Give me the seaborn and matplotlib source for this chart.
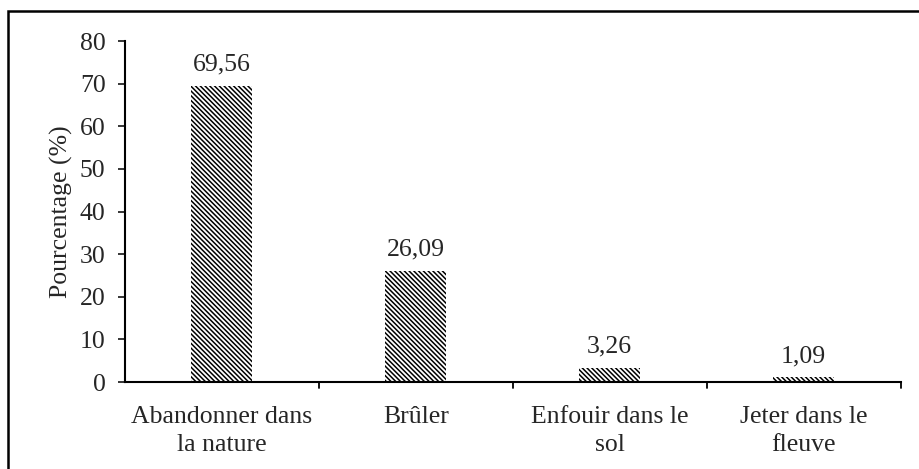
import matplotlib
matplotlib.use("Agg")
import matplotlib.pyplot as plt
from matplotlib.patches import Rectangle
import seaborn as sns
import pandas as pd

categories = ["Abandonner dans\nla nature", "Brûler", "Enfouir dans le\nsol", "Jeter dans le\nfleuve"]
values = [69.56, 26.09, 3.26, 1.09]
value_labels = ["69,56", "26,09", "3,26", "1,09"]

sns.set_style("white")
plt.rcParams['font.family'] = ['Liberation Serif', 'DejaVu Serif']
plt.rcParams['hatch.linewidth'] = 1.1
plt.rcParams['hatch.color'] = 'black'

HATCH = "\\" * 7
FS = 18.5

df = pd.DataFrame({"cat": categories, "val": values})

fig = plt.figure(figsize=(9.19, 4.69), dpi=100)
ax = fig.add_axes([0.136, 0.1855, 0.844, 0.727])

sns.barplot(data=df, x="cat", y="val", ax=ax, color="white", width=0.315,
            edgecolor="black", linewidth=0)

for p in ax.patches:
    p.set_hatch(HATCH)
    p.set_edgecolor("black")
    p.set_linewidth(0)

for i, (v, lab) in enumerate(zip(values, value_labels)):
    ax.text(i, v + 2.4, lab, ha="center", va="bottom", fontsize=FS)

ax.set_ylim(0, 80)
ax.set_xlim(-0.5, 3.5)
ax.set_yticks(range(0, 81, 10))
ax.set_ylabel("Pourcentage (%)", fontsize=FS, labelpad=5)
ax.set_xlabel("")
ax.tick_params(axis="y", labelsize=FS, length=5, width=1.3, direction="out", left=True, pad=9)
ax.tick_params(axis="x", labelsize=FS, length=0, pad=17)
ax.set_xticklabels(categories, linespacing=1.35)

# x tick marks between categories
for xb in [0.5, 1.5, 2.5, 3.5]:
    ax.plot([xb, xb], [0, -1.4], color="black", lw=1.3, clip_on=False)

for s in ["top", "right"]:
    ax.spines[s].set_visible(False)
for s in ["left", "bottom"]:
    ax.spines[s].set_color("black")
    ax.spines[s].set_linewidth(1.5)

# outer frame (cut by image edge on right and bottom)
fig.add_artist(Rectangle((8 / 919, -0.1), 1.1, 0.1 + 1 - 11 / 469,
                         transform=fig.transFigure, fill=False,
                         edgecolor="black", linewidth=1.8))

fig.savefig("out.png", dpi=100)
